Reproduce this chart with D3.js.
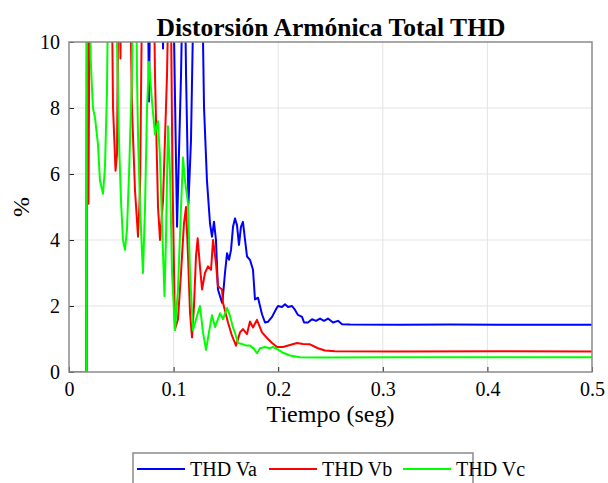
<!DOCTYPE html>
<html><head><meta charset="utf-8">
<script src="https://cdn.jsdelivr.net/npm/d3@7"></script>
<style>body{margin:0;background:#fff}svg{display:block}</style>
</head><body>
<svg id="chart" width="608" height="483"></svg>
<script>
const chartTitle = "Distorsión Armónica Total THD";
const xLabel = "Tiempo (seg)";
const yLabel = "%";
const seriesNames = ["THD Va", "THD Vb", "THD Vc"];
const seriesColors = ["#0000ff", "#ff0000", "#00ff00"];
const xTicks = [0, 0.1, 0.2, 0.3, 0.4, 0.5];
const yTicks = [0, 2, 4, 6, 8, 10];

const timeVa = [0,0.0167,0.0172,0.0746,0.0765,0.0784,0.0889,0.0899,0.0908,0.0985,0.1033,0.1071,0.1099,0.1119,0.1142,0.1166,0.1205,0.1262,0.1291,0.1319,0.1348,0.1367,0.1386,0.1405,0.1424,0.1463,0.1472,0.1491,0.1511,0.1530,0.1549,0.1568,0.1587,0.1606,0.1625,0.1644,0.1663,0.1683,0.1702,0.1730,0.1759,0.1778,0.1807,0.1826,0.1845,0.1874,0.1902,0.1941,0.1979,0.1998,0.2036,0.2065,0.2094,0.2132,0.2161,0.2189,0.2228,0.2247,0.2285,0.2323,0.2361,0.2400,0.2438,0.2476,0.2524,0.2572,0.2610,0.2686,0.3164,0.3642,0.4120,0.5];
const thdVa = [0,0,14,14,8.2,14,14,9.8,14,14,4.4,9,14,9,5.1,7,14,14,8,5.8,4.5,4.1,4.55,4.0,2.5,2.1,2.3,3.0,3.6,3.4,3.7,4.4,4.65,4.45,3.85,4.4,4.55,4.0,3.5,3.4,3.1,2.2,2.25,2.0,1.75,1.5,1.52,1.67,1.9,2.0,1.97,2.05,1.97,2.0,1.88,1.73,1.67,1.5,1.5,1.6,1.55,1.62,1.55,1.62,1.5,1.55,1.45,1.44,1.43,1.44,1.43,1.43];

const timeVb = [0,0.0167,0.0172,0.0186,0.0201,0.0402,0.0421,0.0445,0.0459,0.0478,0.0492,0.0507,0.0574,0.0602,0.0631,0.0660,0.0679,0.0707,0.0803,0.0822,0.0851,0.0870,0.0899,0.0937,0.0966,0.0989,0.1013,0.1042,0.1071,0.1099,0.1119,0.1138,0.1157,0.1176,0.1195,0.1214,0.1230,0.1252,0.1272,0.1300,0.1329,0.1358,0.1377,0.1405,0.1424,0.1463,0.1472,0.1520,0.1558,0.1597,0.1635,0.1663,0.1702,0.1730,0.1759,0.1797,0.1845,0.1893,0.1941,0.1989,0.2046,0.2113,0.2180,0.2237,0.2304,0.2380,0.2447,0.2543,0.3164,0.4120,0.5];
const thdVb = [0,0,14,5.1,14,14,8,6.1,6.6,14,9.5,14,14,8,5.5,4.1,5.5,14,14,9,5,4.0,5.2,9,14,6,1.3,1.6,3,4.5,5.0,3.5,1.8,1.05,2,3.5,4.05,3.2,2.5,3.0,3.2,3.1,4.0,3.3,2.6,2.5,2.1,1.5,1.1,0.8,1.2,1.3,1.15,1.53,1.35,1.58,1.2,1.03,0.88,0.76,0.76,0.82,0.88,0.85,0.84,0.72,0.65,0.63,0.62,0.63,0.62];

const timeVc = [0,0.0167,0.0172,0.0196,0.0207,0.0220,0.0229,0.0249,0.0277,0.0296,0.0325,0.0344,0.0363,0.0382,0.0440,0.0459,0.0478,0.0497,0.0516,0.0535,0.0554,0.0574,0.0602,0.0621,0.0636,0.0650,0.0660,0.0679,0.0707,0.0727,0.0746,0.0765,0.0791,0.0822,0.0851,0.0870,0.0889,0.0913,0.0927,0.0946,0.0966,0.0985,0.1013,0.1042,0.1071,0.1090,0.1109,0.1138,0.1157,0.1185,0.1224,0.1252,0.1281,0.1310,0.1338,0.1367,0.1396,0.1424,0.1444,0.1472,0.1511,0.1539,0.1568,0.1587,0.1616,0.1654,0.1692,0.1730,0.1769,0.1797,0.1826,0.1874,0.1922,0.1950,0.1998,0.2036,0.2113,0.2208,0.2400,0.3164,0.4120,0.5];
const thdVc = [0,0,14,14,9.5,8.6,8.0,7.7,6.9,5.8,5.4,6.2,8.5,14,14,10,7,5.2,4.0,3.7,4.3,6,9,14,14,9,7.15,5.0,3.0,5,8,9.4,8.3,7.2,7.6,6.5,4.5,2.3,4,7.45,6,3,1.27,2.5,5,6.5,5.8,5.1,3,1.27,1.7,2.0,1.2,0.67,1.2,1.72,1.36,1.6,1.78,1.6,1.94,1.7,1.35,1.18,0.88,0.85,0.8,0.8,0.7,0.57,0.72,0.76,0.72,0.76,0.68,0.6,0.5,0.45,0.44,0.45,0.45,0.45];

const seriesTimes = [timeVa, timeVb, timeVc];
const seriesValues = [thdVa, thdVb, thdVc];

const W = 608, H = 483;
const margin = {left: 69, right: 16, top: 42, bottom: 111};
const pw = W - margin.left - margin.right;
const ph = H - margin.top - margin.bottom;

const svg = d3.select("#chart");
const font = "'Liberation Serif', 'Times New Roman', serif";

const x = d3.scaleLinear().domain([0, 0.5]).range([0, pw]);
const y = d3.scaleLinear().domain([0, 10]).range([ph, 0]);

svg.append("defs").append("clipPath").attr("id", "clip")
  .append("rect").attr("width", pw).attr("height", ph);

const g = svg.append("g").attr("transform", `translate(${margin.left},${margin.top})`);

g.append("rect").attr("width", pw).attr("height", ph).attr("fill", "#fff");

// grid
g.append("g").selectAll("line").data(xTicks.slice(1, -1)).join("line")
  .attr("x1", d => x(d)).attr("x2", d => x(d)).attr("y1", 0).attr("y2", ph)
  .attr("stroke", "#e3e3e3").attr("stroke-width", 1);
g.append("g").selectAll("line").data(yTicks.slice(1, -1)).join("line")
  .attr("x1", 0).attr("x2", pw).attr("y1", d => y(d)).attr("y2", d => y(d))
  .attr("stroke", "#e3e3e3").attr("stroke-width", 1);

// lines
const line = d3.line().x(d => x(d[0])).y(d => y(d[1]));
const lines = g.append("g").attr("clip-path", "url(#clip)");
seriesTimes.forEach((ts, i) => {
  const pts = d3.zip(ts, seriesValues[i]);
  lines.append("path").datum(pts).attr("d", line)
    .attr("fill", "none").attr("stroke", seriesColors[i])
    .attr("stroke-width", 2).attr("stroke-linejoin", "round");
});

// axes
const xAxis = d3.axisBottom(x).tickValues(xTicks).tickSizeInner(-5).tickSizeOuter(0).tickPadding(8)
  .tickFormat(d => d3.format("")(+d.toFixed(1)));
const yAxis = d3.axisLeft(y).tickValues(yTicks).tickSizeInner(-5).tickSizeOuter(0).tickPadding(9);

const gx = g.append("g").attr("transform", `translate(0,${ph})`).call(xAxis);
const gy = g.append("g").call(yAxis);
[gx, gy].forEach(a => {
  a.select(".domain").remove();
  a.selectAll(".tick line").attr("stroke", "#262626").attr("stroke-width", 1);
  a.selectAll(".tick text").attr("font-family", font).attr("font-size", 20).attr("fill", "#000");
});
gx.selectAll(".tick text").attr("dy", "0.8em");

// box
g.append("rect").attr("width", pw).attr("height", ph)
  .attr("fill", "none").attr("stroke", "#8a8a8a").attr("stroke-width", 1.5);

// title & labels
svg.append("text").attr("x", 331).attr("y", 36)
  .attr("text-anchor", "middle").attr("font-family", font).attr("font-weight", "bold")
  .attr("font-size", 25.5).text(chartTitle);
svg.append("text").attr("x", margin.left + pw / 2).attr("y", 422)
  .attr("text-anchor", "middle").attr("font-family", font).attr("font-size", 24).text(xLabel);
svg.append("text").attr("transform", `translate(29,${margin.top + ph / 2}) rotate(-90)`)
  .attr("text-anchor", "middle").attr("font-family", font).attr("font-size", 24).text(yLabel);

// legend
const lg = svg.append("g").attr("transform", "translate(133,453)");
lg.append("rect").attr("width", 340).attr("height", 40)
  .attr("fill", "#fff").attr("stroke", "#8a8a8a").attr("stroke-width", 1.5);
const entryX = [4, 136, 270];
seriesNames.forEach((n, i) => {
  lg.append("line").attr("x1", entryX[i]).attr("x2", entryX[i] + 48).attr("y1", 16).attr("y2", 16)
    .attr("stroke", seriesColors[i]).attr("stroke-width", 2);
  lg.append("text").attr("x", entryX[i] + 53).attr("y", 23)
    .attr("font-family", font).attr("font-size", 20).text(n);
});
</script>
</body></html>
